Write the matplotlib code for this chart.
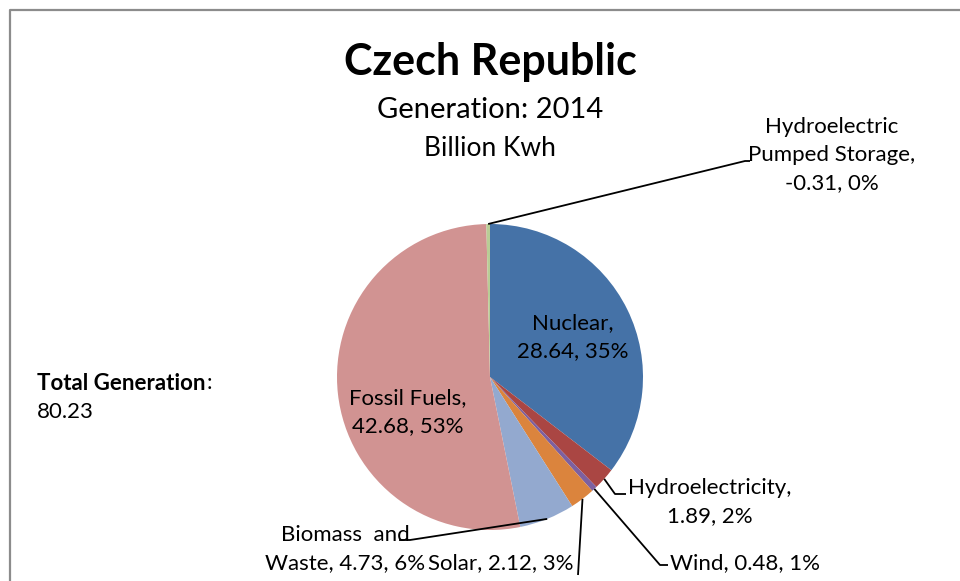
import matplotlib
matplotlib.use("Agg")
import matplotlib.pyplot as plt
import numpy as np

# ---- data ----
sources = ["Nuclear", "Hydroelectricity", "Wind", "Solar", "Biomass  and\nWaste",
           "Fossil Fuels", "Hydroelectric\nPumped Storage"]
values = [28.64, 1.89, 0.48, 2.12, 4.73, 42.68, -0.31]
colors = ["#4572A7", "#AA4643", "#7D60A0", "#DB843D", "#93A9CF", "#D19392", "#B9CD96"]
title = "Czech Republic"
subtitle1 = "Generation: 2014"
subtitle2 = "Billion Kwh"
total_label = "Total Generation"
total_value = 80.23

W, H = 960, 581
FONT = "Lato"
plt.rcParams["font.family"] = [FONT, "DejaVu Sans"]

fig = plt.figure(figsize=(W / 100, H / 100), dpi=100)
ax = fig.add_axes([0, 0, 1, 1])

def Y(py):
    return H - py

cx, cy, R = 490, 377, 153
absvals = np.abs(values)
ax.pie(absvals, colors=colors, startangle=90, counterclock=False,
       center=(cx, Y(cy)), radius=R, wedgeprops=dict(linewidth=0))
ax.set_xlim(0, W)
ax.set_ylim(0, H)
ax.set_aspect("equal")
ax.axis("off")

total_abs = absvals.sum()
fr = absvals / total_abs
ends = 90 - 360 * np.cumsum(fr)
starts = ends + 360 * fr
mids = (starts + ends) / 2

def lab(i, sep=" "):
    return f"{sources[i]},{sep}{values[i]:.2f}, {round(fr[i] * 100):d}%"

def edge(i):
    a = np.deg2rad(mids[i])
    return cx + R * np.cos(a), Y(cy) + R * np.sin(a)

fs = 16
ls = 1.5
# inside labels
ax.text(573, Y(337), lab(0, "\n"), ha="center", va="center", fontsize=fs, linespacing=ls)
ax.text(408, Y(412), lab(5, "\n"), ha="center", va="center", fontsize=fs, linespacing=ls)

lc = dict(color="black", lw=1.3, solid_capstyle="butt")
# Hydroelectricity
ex, ey = edge(1)
ax.plot([ex, 615, 626], [ey, Y(494), Y(494)], **lc)
ax.text(710, Y(502), lab(1, "\n"), ha="center", va="center", fontsize=fs, linespacing=ls)
# Wind
ex, ey = edge(2)
ax.plot([ex, 660, 668], [ey, Y(565), Y(565)], **lc)
ax.text(670, Y(563), lab(2), ha="left", va="center", fontsize=fs)
# Solar
ex, ey = edge(3)
ax.plot([ex, 578], [ey, Y(575)], **lc)
ax.text(573, Y(563), lab(3), ha="right", va="center", fontsize=fs)
# Biomass
ex, ey = edge(4)
ax.plot([ex, 410, 399], [ey, Y(540), Y(540)], **lc)
ax.text(345, Y(549), lab(4), ha="center", va="center", fontsize=fs, linespacing=ls)
# Pumped storage
ex, ey = edge(6)
ax.plot([ex, 745, 750], [ey, Y(161), Y(161)], **lc)
ax.text(832, Y(155), lab(6, "\n"), ha="center", va="center", fontsize=fs, linespacing=ls)

# titles
ax.text(490, Y(62), title, ha="center", va="center", fontsize=31, fontweight="bold")
ax.text(490, Y(110), subtitle1, ha="center", va="center", fontsize=21)
ax.text(490, Y(148), subtitle2, ha="center", va="center", fontsize=19)

# total generation
t = ax.text(37, Y(383), total_label, ha="left", va="center", fontsize=16, fontweight="bold")
fig.canvas.draw()
bb = t.get_window_extent()
ax.text(bb.x1 / fig.dpi * 100 + 1, Y(383), ":", ha="left", va="center", fontsize=16)
ax.text(37, Y(412), f"{total_value:.2f}", ha="left", va="center", fontsize=16)

# frame
ax.plot([10, 10, W], [0, Y(10), Y(10)], color="#8C8C8C", lw=1.6, solid_capstyle="butt")

fig.savefig("out.png", dpi=100)
